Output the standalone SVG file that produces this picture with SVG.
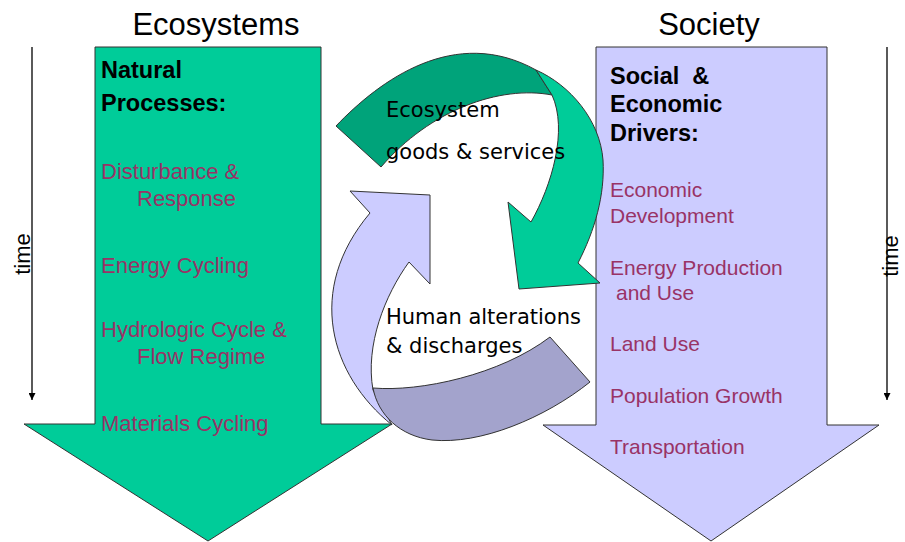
<svg xmlns="http://www.w3.org/2000/svg" width="905" height="542" viewBox="0 0 905 542">
<style>
.t{font-family:"Liberation Sans",Arial,sans-serif}
.title{font-size:31px;fill:#000;text-anchor:middle}
.hdr{font-size:23.5px;font-weight:bold;fill:#000}
.itemL{font-size:22px;fill:#993366}
.itemR{font-size:21px;fill:#993366}
.lbl{font-family:"DejaVu Sans",Verdana,sans-serif;font-size:21px;fill:#000}
.tm{font-size:22px;fill:#000;text-anchor:middle}
.edge{stroke:#333;stroke-width:1;stroke-linejoin:miter}
</style>
<defs>
<marker id="ah" viewBox="0 0 10 10" refX="10" refY="5" markerWidth="7" markerHeight="7" markerUnits="userSpaceOnUse" orient="auto">
<path d="M0,0 L10,5 L0,10 Z" fill="#000"/>
</marker>
</defs>
<rect width="905" height="542" fill="#fff"/>

<g id="ecosystems">
<path class="edge" fill="#00CC99" d="M95,47 L321,47 L321,424 L392,424 L208,541 L24,424 L95,424 Z"/>
<text class="t title" x="216" y="35">Ecosystems</text>
<text class="t hdr" x="101" y="78">Natural</text>
<text class="t hdr" x="101" y="111">Processes:</text>
<text class="t itemL" x="101" y="179">Disturbance &amp;</text>
<text class="t itemL" x="137" y="206">Response</text>
<text class="t itemL" x="101" y="273">Energy Cycling</text>
<text class="t itemL" x="101" y="337">Hydrologic Cycle &amp;</text>
<text class="t itemL" x="137" y="364">Flow Regime</text>
<text class="t itemL" x="101" y="431">Materials Cycling</text>
</g>

<g id="society">
<path class="edge" fill="#CCCCFF" d="M596,47 L827,47 L827,425 L879,425 L711,541 L543,425 L596,425 Z"/>
<text class="t title" x="709" y="35">Society</text>
<text class="t hdr" x="610" y="84" xml:space="preserve">Social  &amp;</text>
<text class="t hdr" x="610" y="112">Economic</text>
<text class="t hdr" x="610" y="141">Drivers:</text>
<text class="t itemR" x="610" y="197">Economic</text>
<text class="t itemR" x="610" y="223">Development</text>
<text class="t itemR" x="610" y="275">Energy Production</text>
<text class="t itemR" x="616" y="300">and Use</text>
<text class="t itemR" x="610" y="351">Land Use</text>
<text class="t itemR" x="610" y="403">Population Growth</text>
<text class="t itemR" x="610" y="454">Transportation</text>
</g>

<g id="connectors">
<g id="goods-services-arrow">
<path class="edge" fill="#00A37A" d="M336,126 C380,80 455,25 536,70 L552,95 C500,85 430,110 381,167 Z"/>
<path class="edge" fill="#00CC99" d="M536,70 C570,85 600,120 603,160 C605,195 595,230 578,263 L600,283 L519,289 L508,202 L531,222 C552,185 568,130 552,95 Z"/>
</g>
<g id="human-alterations-arrow">
<path class="edge" fill="#CCCCFF" d="M350,191 L430,195 L430,284 L409,262 C385,295 365,345 373,390 L392,425 C330,375 305,290 370,213 Z"/>
<path class="edge" fill="#A3A3CC" d="M373,388 C420,392 500,375 550,337 L590,382 C545,418 480,445 432,440 C400,436 378,415 373,388 Z"/>
</g>
<line x1="32" y1="47" x2="32" y2="400" stroke="#000" stroke-width="1.3" marker-end="url(#ah)"/>
<line x1="887" y1="47" x2="887" y2="400" stroke="#000" stroke-width="1.3" marker-end="url(#ah)"/>
</g>

<g id="labels">
<text class="lbl" x="386" y="117">Ecosystem</text>
<text class="lbl" x="386" y="159">goods &amp; services</text>
<text class="lbl" x="386" y="324">Human alterations</text>
<text class="lbl" x="386" y="353">&amp; discharges</text>
<text class="t tm" transform="translate(29.5,254) rotate(-90)">time</text>
<text class="t tm" transform="translate(898,256) rotate(-90)">time</text>
</g>
</svg>
